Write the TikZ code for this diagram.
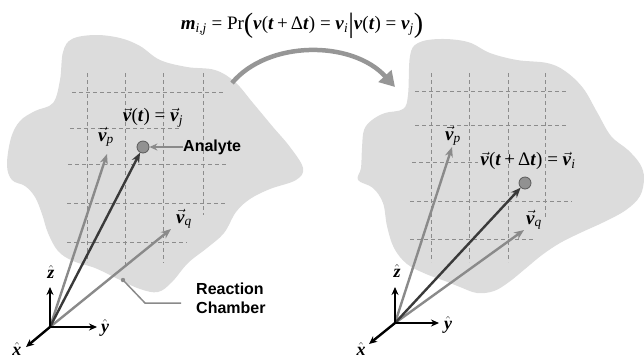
\documentclass[tikz,border=0pt]{standalone}
\usepackage{fontspec}
\setmainfont{Liberation Serif}
\setsansfont{Liberation Sans}
\usetikzlibrary{arrows.meta}
\definecolor{blobgray}{RGB}{220,220,220}
\definecolor{gridgray}{RGB}{140,140,140}
\definecolor{vecgray}{RGB}{138,138,138}
\definecolor{vecdark}{RGB}{58,58,58}
\definecolor{biggray}{RGB}{150,150,150}
\definecolor{dotfill}{RGB}{145,145,145}
\definecolor{dotdraw}{RGB}{90,90,90}
\newcommand{\bvv}{\textbf{\textit{v}}}
\newcommand{\btt}{\textbf{\textit{t}}}
\newcommand{\vecv}{$\vec{\mbox{\bvv}}$}
\newcommand{\hatb}[1]{$\hat{\mbox{\bfseries\itshape #1}}$}
\newcommand{\sbs}[1]{\textsubscript{\textit{#1}}}
\newcommand{\bigdelim}[1]{\raisebox{-3pt}{\fontsize{28}{28}\selectfont #1}}
\begin{document}
\begin{tikzpicture}[x=1pt,y=-1pt,
  blob/.style={fill=blobgray,draw=none},
  gridline/.style={draw=gridgray,dashed,dash pattern=on 4pt off 3pt,line width=0.9pt},
  axis/.style={draw=black,line width=2.4pt,-{Stealth[length=8pt,width=7pt]}},
  vecg/.style={draw=vecgray,line width=2.4pt,-{Stealth[length=10pt,width=8pt]}},
  vecd/.style={draw=vecdark,line width=2.4pt,-{Stealth[length=10pt,width=8pt]}},
  analyte/.style={circle,fill=dotfill,draw=dotdraw,line width=0.8pt,minimum size=12pt,inner sep=0pt},
  lbl/.style={font=\fontsize{19}{22}\selectfont,inner sep=0pt},
  hatlbl/.style={font=\fontsize{18}{21}\selectfont,inner sep=0pt},
  sanslbl/.style={font=\sffamily\bfseries\fontsize{16}{19}\selectfont,inner sep=0pt},
  bigarrow/.style={draw=biggray,line width=4.5pt,-{Triangle[length=15pt,width=17pt]}},
  leader/.style={draw=vecgray,line width=1.5pt}
]
\useasboundingbox (0,0) rectangle (644,360);

% ---------- blobs ----------
\path[blob] plot[smooth cycle,tension=0.6] coordinates {
 (63,52) (72,39) (95,35) (120,38) (140,46) (160,60) (187,67) (215,70) (235,82)
 (253,103) (273,127) (290,147) (303,168) (296,180) (270,189) (250,199) (236,212)
 (224,233) (207,248) (188,263) (172,282) (158,292) (140,289) (118,279) (95,268)
 (73,261) (58,251) (48,233) (42,214) (35,197) (25,186) (12,180) (7,165) (11,138)
 (20,121) (35,111) (53,103) (60,80)};
\path[blob] plot[smooth cycle,tension=0.6] coordinates {
 (410,56) (418,43) (440,39) (468,42) (490,53) (517,60) (547,63) (565,71) (583,88)
 (597,112) (611,136) (628,150) (640,164) (644,178) (640,196) (626,210) (604,222)
 (580,233) (560,243) (542,255) (525,269) (509,282) (494,291) (477,293) (460,287)
 (445,281) (426,274) (407,264) (394,248) (387,226) (383,203) (373,188) (358,180)
 (361,168) (362,148) (364,130) (372,120) (385,113) (403,109) (408,95)};

% ---------- grids ----------
\foreach \y/\a/\b in {92/72/223,128/70/180,164/68/227,203/67/227,242/67/187}
  \draw[gridline] (\a,\y) -- (\b,\y);
\foreach \x/\b in {87/262,125/268,163/263,203/215}
  \draw[gridline] (\x,73) -- (\x,\b);
\foreach \y/\a/\b in {91/415/567,125/415/567,162/412/478,201/410/572,239/410/533}
  \draw[gridline] (\a,\y) -- (\b,\y);
\foreach \x/\b in {431/262,469/262,508/262,545/217}
  \draw[gridline] (\x,73) -- (\x,\b);

% ---------- title and transition arrow ----------
\node[lbl,font=\fontsize{19}{22}\selectfont] (title) at (302,26)
  {\textbf{\textit{m}}\sbs{i,j} = Pr\bigdelim{(}\bvv(\btt\,+\,Δ\btt) = \bvv\sbs{i}\bigdelim{|}\bvv(\btt) = \bvv\sbs{j}\bigdelim{)}};
\coordinate (arrS) at (232,83);
\coordinate (arrE) at (395,87);
\draw[bigarrow] (arrS) .. controls (268,40) and (352,40) .. (arrE);

% ---------- left panel ----------
\coordinate (O1) at (50,327);
\coordinate (z1) at (50,287);
\coordinate (y1) at (97,327);
\coordinate (x1) at (26,347);
\coordinate (vp1) at (107,154);
\coordinate (vq1) at (171,229);
\node[analyte] (c1) at (143,147) {};
\draw[vecg] (O1) -- (vp1);
\draw[vecg] (O1) -- (vq1);
\draw[vecd] (O1) -- (c1);
\draw[axis] (O1) -- (z1);
\draw[axis] (O1) -- (y1);
\draw[axis] (O1) -- (x1);
\node[hatlbl] (zh1) at (51,272) {\hatb{z}};
\node[hatlbl] (yh1) at (105,328) {\hatb{y}};
\node[hatlbl,anchor=south] (xh1) at (17,356) {\hatb{x}};
\node[lbl] (vpl1) at (106,137) {\vecv\sbs{p}};
\node[lbl] (vql1) at (184,219) {\vecv\sbs{q}};
\node[lbl] (vtl) at (153,118) {\vecv(\btt) = \vecv\sbs{j}};
\node[sanslbl,anchor=west] (anl) at (183,147) {Analyte};
\draw[vecg,line width=2pt,-{Stealth[length=8pt,width=7pt]}] (anl.west) -- (c1.east);
\node[sanslbl,anchor=west,align=left] (rcl) at (196,298) {Reaction\\Chamber};
\coordinate (rc) at (123,280);
\coordinate (rcm) at (145,303);
\coordinate (rce) at (181,303);
\fill[vecgray] (rc) circle (2.2pt);
\draw[leader] (rc) -- (rcm) -- (rce);

% ---------- right panel ----------
\coordinate (O2) at (395,323);
\coordinate (z2) at (395,287);
\coordinate (y2) at (439,323);
\coordinate (x2) at (369,344);
\coordinate (vp2) at (452,147);
\coordinate (vq2) at (524,230);
\node[analyte] (c2) at (525,183) {};
\draw[vecg] (O2) -- (vp2);
\draw[vecg] (O2) -- (vq2);
\draw[vecd] (O2) -- (c2);
\draw[axis] (O2) -- (z2);
\draw[axis] (O2) -- (y2);
\draw[axis] (O2) -- (x2);
\node[hatlbl] (zh2) at (397,271) {\hatb{z}};
\node[hatlbl] (yh2) at (448,325) {\hatb{y}};
\node[hatlbl,anchor=south] (xh2) at (361,356) {\hatb{x}};
\node[lbl] (vpl2) at (453,136) {\vecv\sbs{p}};
\node[lbl] (vql2) at (534,220) {\vecv\sbs{q}};
\node[lbl] (vtl2) at (528,161) {\vecv(\btt\,+\,Δ\btt) = \vecv\sbs{i}};
\end{tikzpicture}
\end{document}
